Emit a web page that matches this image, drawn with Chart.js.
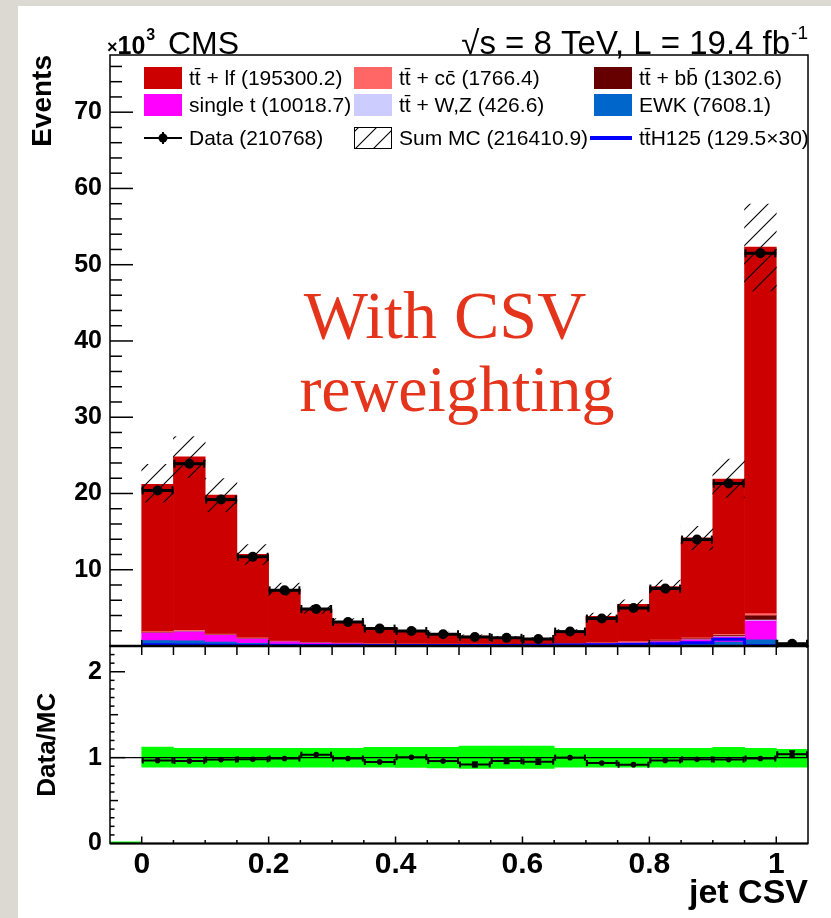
<!DOCTYPE html>
<html>
<head>
<meta charset="utf-8">
<script src="https://cdn.jsdelivr.net/npm/chart.js@4.4.1/dist/chart.umd.min.js"></script>
<style>
html, body { margin: 0; padding: 0; background: #fff; }
#page { position: relative; width: 831px; height: 918px; background: #fff; overflow: hidden; }
#edgeL { position: absolute; left: 0; top: 0; width: 18px; height: 918px; background: #dcd9d3; }
#edgeT { position: absolute; left: 0; top: 0; width: 831px; height: 6px; background: #dcd9d3; }
canvas { position: absolute; left: 0; }
#upper { top: 0; }
#ratio { top: 640px; }
</style>
</head>
<body>
<div id="page">
  <div id="edgeL"></div>
  <div id="edgeT"></div>
  <canvas id="upper" width="831" height="660"></canvas>
  <canvas id="ratio" width="831" height="278"></canvas>
</div>
<script>
// bin edges of jet CSV (last bin is the overflow 1.0-1.05)
var binEdges = [0, 0.05, 0.1, 0.15, 0.2, 0.25, 0.3, 0.35, 0.4, 0.45, 0.5, 0.55, 0.6, 0.65, 0.7, 0.75, 0.8, 0.85, 0.9, 0.95, 1.0, 1.05];
var ratioEdges = [-0.05, 0, 0.05, 0.1, 0.15, 0.2, 0.25, 0.3, 0.35, 0.4, 0.45, 0.5, 0.55, 0.6, 0.65, 0.7, 0.75, 0.8, 0.85, 0.9, 0.95, 1.0, 1.05];

// events, in units of 10^3
var dataEvents = [20.4, 23.9, 19.2, 11.7, 7.3, 4.85, 3.15, 2.28, 1.97, 1.54, 1.18, 1.07, 0.92, 1.89, 3.6, 4.99, 7.53, 13.96, 21.3, 51.5, 0.3];
var ewk     = [0.8, 0.75, 0.6, 0.45, 0.35, 0.3, 0.25, 0.2, 0.2, 0.18, 0.17, 0.16, 0.16, 0.2, 0.25, 0.3, 0.35, 0.45, 0.6, 0.9, 0.05];
var singleT = [1.0, 1.2, 0.9, 0.57, 0.3, 0.2, 0.15, 0.12, 0.1, 0.1, 0.1, 0.1, 0.1, 0.12, 0.15, 0.2, 0.3, 0.45, 0.65, 2.45, 0.02];
var ttV     = [0.02, 0.02, 0.02, 0.015, 0.01, 0.01, 0.01, 0.01, 0.01, 0.01, 0.01, 0.01, 0.01, 0.01, 0.015, 0.02, 0.03, 0.04, 0.06, 0.15, 0];
var ttbb    = [0.04, 0.04, 0.03, 0.03, 0.02, 0.02, 0.02, 0.02, 0.02, 0.02, 0.02, 0.02, 0.02, 0.03, 0.04, 0.05, 0.07, 0.1, 0.15, 0.55, 0];
var ttcc    = [0.13, 0.14, 0.11, 0.08, 0.06, 0.05, 0.04, 0.04, 0.04, 0.03, 0.03, 0.03, 0.03, 0.05, 0.07, 0.08, 0.1, 0.13, 0.15, 0.3, 0];
var ttlf    = [19.21, 22.65, 18.14, 10.86, 6.7, 4.22, 2.78, 2.03, 1.68, 1.28, 0.97, 0.8, 0.64, 1.52, 3.38, 4.8, 6.95, 13.0, 20.27, 47.95, 0.13];
var ttH30   = [0.15, 0.15, 0.13, 0.1, 0.08, 0.07, 0.06, 0.06, 0.06, 0.06, 0.06, 0.07, 0.07, 0.09, 0.12, 0.15, 0.2, 0.3, 0.42, 0.9, 0.02];

// Data/MC panel
var ratio    = [0.968, 0.96, 0.977, 0.98, 0.99, 1.035, 0.99, 0.95, 1.005, 0.96, 0.92, 0.96, 0.953, 1.0, 0.937, 0.918, 0.968, 0.98, 0.977, 0.99, 1.04];
var ratioErr = [0.006, 0.006, 0.006, 0.008, 0.01, 0.012, 0.015, 0.018, 0.02, 0.022, 0.025, 0.026, 0.028, 0.02, 0.014, 0.012, 0.01, 0.008, 0.006, 0.004, 0.035];
var bandLo = [0, 0.89, 0.89, 0.89, 0.89, 0.89, 0.89, 0.89, 0.89, 0.885, 0.88, 0.875, 0.875, 0.875, 0.89, 0.89, 0.89, 0.89, 0.89, 0.89, 0.89, 0.89];
var bandHi = [0.02, 1.124, 1.108, 1.108, 1.108, 1.108, 1.108, 1.108, 1.12, 1.12, 1.12, 1.135, 1.135, 1.135, 1.108, 1.108, 1.108, 1.108, 1.108, 1.12, 1.108, 1.097];

var yTicks = [10, 20, 30, 40, 50, 60, 70];
var xTicks = [0, 0.2, 0.4, 0.6, 0.8, 1];
var ratioTicks = [0, 1, 2];

Chart.defaults.font.family = 'Liberation Sans';
Chart.defaults.color = '#000';

function centers(edges) {
  var c = [];
  for (var i = 0; i < edges.length - 1; i++) c.push((edges[i] + edges[i + 1]) / 2);
  return c;
}
var xc = centers(binEdges);
var xcR = centers(ratioEdges);

// keep chart area exactly where the layout padding puts it
function noPad(s) { s.paddingTop = 0; s.paddingBottom = 0; s.paddingLeft = 0; s.paddingRight = 0; }

function hatchPattern(ctx) {
  var c = document.createElement('canvas');
  c.width = 18; c.height = 18;
  var g = c.getContext('2d');
  g.strokeStyle = '#000';
  g.lineWidth = 1.1;
  g.beginPath();
  g.moveTo(0, 18); g.lineTo(18, 0);
  g.moveTo(-9, 9); g.lineTo(9, -9);
  g.moveTo(9, 27); g.lineTo(27, 9);
  g.stroke();
  return ctx.createPattern(c, 'repeat');
}

// stack, bottom to top
var layers = [
  { label: 'EWK', vals: ewk, color: '#0066cc' },
  { label: 'single t', vals: singleT, color: '#ff00ff' },
  { label: 'ttV', vals: ttV, color: '#ccccff' },
  { label: 'ttbb', vals: ttbb, color: '#660000' },
  { label: 'ttcc', vals: ttcc, color: '#ff6666' },
  { label: 'ttlf', vals: ttlf, color: '#cc0000' }
];
var base = xc.map(function () { return 0; });
var stackSets = layers.map(function (l, k) {
  var d = xc.map(function (x, i) {
    var lo = base[i];
    base[i] += l.vals[i];
    return { x: x, y: [lo, base[i]] };
  });
  return { type: 'bar', label: l.label, data: d, backgroundColor: l.color, borderWidth: 0,
           grouped: false, barPercentage: 1, categoryPercentage: 1, order: 20 - k };
});
var mcTotal = base.slice();

var upperCtx = document.getElementById('upper').getContext('2d');
var hatch = hatchPattern(upperCtx);

var hatchSet = {
  type: 'bar', label: 'Sum MC',
  data: xc.map(function (x, i) { return { x: x, y: [mcTotal[i] * bandLo[i + 1], mcTotal[i] * bandHi[i + 1]] }; }),
  backgroundColor: hatch, borderWidth: 0, grouped: false, barPercentage: 1, categoryPercentage: 1, order: 3
};
var ttHPts = binEdges.map(function (e, i) { return { x: e, y: ttH30[Math.min(i, ttH30.length - 1)] }; });
var ttHSet = { type: 'line', label: 'ttH125', data: ttHPts, stepped: 'after', borderColor: '#0000ff',
               borderWidth: 3, pointRadius: 0, fill: false, order: 2 };
var dataSet = { type: 'scatter', label: 'Data', data: xc.map(function (x, i) { return { x: x, y: dataEvents[i] }; }),
                pointRadius: 5, pointBackgroundColor: '#000', pointBorderWidth: 0, order: 1 };

function drawLine(ctx, x0, y0, x1, y1) { ctx.beginPath(); ctx.moveTo(x0, y0); ctx.lineTo(x1, y1); ctx.stroke(); }

var legendItems = [
  { col: 0, row: 0, kind: 'box', color: '#cc0000', text: 'tt\u0304 + lf (195300.2)' },
  { col: 1, row: 0, kind: 'box', color: '#ff6666', text: 'tt\u0304 + cc\u0304 (1766.4)' },
  { col: 2, row: 0, kind: 'box', color: '#660000', text: 'tt\u0304 + bb\u0304 (1302.6)' },
  { col: 0, row: 1, kind: 'box', color: '#ff00ff', text: 'single t (10018.7)' },
  { col: 1, row: 1, kind: 'box', color: '#ccccff', text: 'tt\u0304 + W,Z (426.6)' },
  { col: 2, row: 1, kind: 'box', color: '#0066cc', text: 'EWK (7608.1)' },
  { col: 0, row: 2, kind: 'data', text: 'Data (210768)' },
  { col: 1, row: 2, kind: 'hatch', text: 'Sum MC (216410.9)' },
  { col: 2, row: 2, kind: 'line', color: '#0000ff', text: 'tt\u0304H125 (129.5\u00d730)' }
];
var legendColX = [144, 354, 594];
var legendRowY = [78, 105, 138];

var upperDeco = {
  id: 'upperDeco',
  afterDatasetsDraw: function (chart) {
    var ctx = chart.ctx, xs = chart.scales.x, ys = chart.scales.y;
    ctx.save();
    ctx.strokeStyle = '#000';
    ctx.lineWidth = 3;
    for (var i = 0; i < dataEvents.length; i++) {
      var y = ys.getPixelForValue(dataEvents[i]);
      var x0 = xs.getPixelForValue(binEdges[i]), x1 = xs.getPixelForValue(binEdges[i + 1]);
      drawLine(ctx, x0, y, x1, y);
      ctx.lineWidth = 2;
      drawLine(ctx, x0 + 1, y - 4, x0 + 1, y + 4);
      drawLine(ctx, x1 - 1, y - 4, x1 - 1, y + 4);
      ctx.lineWidth = 3;
    }
    ctx.restore();
  },
  afterDraw: function (chart) {
    var ctx = chart.ctx, ca = chart.chartArea, xs = chart.scales.x, ys = chart.scales.y;
    ctx.save();
    ctx.strokeStyle = '#000';
    // frame
    ctx.lineWidth = 1.5;
    ctx.strokeRect(ca.left, ca.top, ca.right - ca.left, ca.bottom - ca.top);
    ctx.lineWidth = 2.5;
    drawLine(ctx, ca.left, ca.bottom, ca.right, ca.bottom);
    // y ticks
    ctx.lineWidth = 1.5;
    for (var k = 1; k * 2 <= ys.max; k++) {
      var v = k * 2, py = ys.getPixelForValue(v);
      drawLine(ctx, ca.left, py, ca.left + (v % 10 === 0 ? 23 : 12), py);
    }
    // x ticks
    for (var j = 0; j <= 20; j++) {
      var px = xs.getPixelForValue(j * 0.05);
      drawLine(ctx, px, ca.bottom - (j % 4 === 0 ? 6 : 0), px, ca.bottom + 9);
    }
    // legend
    ctx.font = '21px "Liberation Sans"';
    ctx.textBaseline = 'middle';
    ctx.textAlign = 'left';
    legendItems.forEach(function (it) {
      var x = legendColX[it.col], y = legendRowY[it.row];
      if (it.kind === 'box') {
        ctx.fillStyle = it.color;
        ctx.fillRect(x, y - 11, 38, 22);
      } else if (it.kind === 'data') {
        ctx.lineWidth = 2;
        drawLine(ctx, x, y, x + 38, y);
        drawLine(ctx, x + 19, y - 6, x + 19, y + 6);
        ctx.fillStyle = '#000';
        ctx.beginPath(); ctx.arc(x + 19, y, 4.5, 0, Math.PI * 2); ctx.fill();
      } else if (it.kind === 'hatch') {
        ctx.fillStyle = hatch;
        ctx.fillRect(x, y - 11, 38, 22);
        ctx.lineWidth = 1;
        ctx.strokeRect(x + 0.5, y - 10.5, 37, 21);
      } else {
        ctx.strokeStyle = it.color;
        ctx.lineWidth = 4;
        drawLine(ctx, x - 4, y, x + 38, y);
        ctx.strokeStyle = '#000';
      }
      ctx.fillStyle = '#000';
      ctx.fillText(it.text, x + 45, y + 1);
    });
    // header texts
    ctx.textBaseline = 'alphabetic';
    ctx.font = 'bold 18px "Liberation Sans"';
    ctx.fillText('\u00d7', 107, 53);
    var wx = ctx.measureText('\u00d7').width;
    ctx.font = 'bold 25px "Liberation Sans"';
    ctx.fillText('10', 107 + wx, 54);
    var w10 = ctx.measureText('10').width;
    ctx.font = 'bold 16px "Liberation Sans"';
    ctx.fillText('3', 107 + wx + w10 + 1, 40);
    ctx.font = '32px "Liberation Sans"';
    ctx.fillText('CMS', 168, 54);
    ctx.font = '19px "Liberation Sans"';
    var sup = '-1';
    var ws = ctx.measureText(sup).width;
    ctx.textAlign = 'right';
    ctx.fillText(sup, 808, 39);
    ctx.font = '33px "Liberation Sans"';
    ctx.fillText('\u221as = 8 TeV, L = 19.4 fb', 807 - ws, 54);
    // annotation
    ctx.textAlign = 'center';
    ctx.fillStyle = '#e5341c';
    ctx.font = '68px "Liberation Serif"';
    ctx.fillText('With CSV', 445, 338);
    ctx.font = '66px "Liberation Serif"';
    ctx.fillText('reweighting', 457, 411);
    ctx.restore();
  }
};

new Chart(upperCtx, {
  type: 'bar',
  data: { datasets: [dataSet, hatchSet, ttHSet].concat(stackSets) },
  options: {
    responsive: false, animation: false, devicePixelRatio: 1, events: [],
    layout: { padding: { left: 10, top: 55, right: 23, bottom: 14 } },
    plugins: { legend: { display: false }, tooltip: { enabled: false } },
    scales: {
      x: { type: 'linear', min: -0.05, max: 1.05, offset: false, display: false,
           afterFit: noPad,
           afterBuildTicks: function (s) { s.ticks = xTicks.map(function (v) { return { value: v }; }); } },
      y: { type: 'linear', min: 0, max: 77.5, position: 'left',
           afterFit: function (s) { s.width = 100; noPad(s); },
           afterBuildTicks: function (s) { s.ticks = yTicks.map(function (v) { return { value: v }; }); },
           grid: { display: false, drawTicks: false }, border: { display: false },
           ticks: { font: { size: 25, weight: 'bold' }, padding: 8, color: '#000' },
           title: { display: true, text: 'Events', align: 'end', color: '#000',
                    font: { size: 28, weight: 'bold' }, padding: { top: 16, bottom: 0 } } }
    }
  },
  plugins: [upperDeco]
});

// ratio panel
var bandSet = {
  type: 'bar', label: 'MC unc',
  data: xcR.map(function (x, i) { return { x: x, y: [bandLo[i], bandHi[i]] }; }),
  backgroundColor: '#00ff00', borderWidth: 0, grouped: false, barPercentage: 1, categoryPercentage: 1, order: 5
};
var ratioSet = { type: 'scatter', label: 'Data/MC', data: xc.map(function (x, i) { return { x: x, y: ratio[i] }; }),
                 pointRadius: 2.8, pointBackgroundColor: '#000', pointBorderWidth: 0, order: 1 };

var ratioDeco = {
  id: 'ratioDeco',
  afterDatasetsDraw: function (chart) {
    var ctx = chart.ctx, ca = chart.chartArea, xs = chart.scales.x, ys = chart.scales.y;
    ctx.save();
    ctx.strokeStyle = '#000';
    ctx.lineWidth = 1.2;
    var y1 = ys.getPixelForValue(1);
    drawLine(ctx, ca.left, y1, ca.right, y1);
    ctx.lineWidth = 2;
    for (var i = 0; i < ratio.length; i++) {
      var y = ys.getPixelForValue(ratio[i]);
      var x0 = xs.getPixelForValue(binEdges[i]), x1 = xs.getPixelForValue(binEdges[i + 1]);
      var xm = (x0 + x1) / 2;
      var ylo = ys.getPixelForValue(ratio[i] - ratioErr[i]), yhi = ys.getPixelForValue(ratio[i] + ratioErr[i]);
      drawLine(ctx, x0, y, x1, y);
      drawLine(ctx, x0 + 1, y - 3, x0 + 1, y + 3);
      drawLine(ctx, x1 - 1, y - 3, x1 - 1, y + 3);
      drawLine(ctx, xm, ylo, xm, yhi);
      if (yhi < y - 2) {
        drawLine(ctx, xm - 3, ylo, xm + 3, ylo);
        drawLine(ctx, xm - 3, yhi, xm + 3, yhi);
      }
    }
    ctx.restore();
  },
  afterDraw: function (chart) {
    var ctx = chart.ctx, ca = chart.chartArea, xs = chart.scales.x, ys = chart.scales.y;
    ctx.save();
    ctx.strokeStyle = '#000';
    ctx.lineWidth = 1.5;
    ctx.strokeRect(ca.left, ca.top, ca.right - ca.left, ca.bottom - ca.top);
    ctx.lineWidth = 2;
    drawLine(ctx, ca.left, ca.bottom, ca.right, ca.bottom);
    ctx.lineWidth = 1.5;
    for (var k = 1; k * 0.1 <= ys.max; k++) {
      var py = ys.getPixelForValue(k * 0.1);
      var len = (k % 10 === 0) ? 15 : (k % 5 === 0 ? 8 : 4.5);
      drawLine(ctx, ca.left, py, ca.left + len, py);
    }
    for (var j = 0; j <= 20; j++) {
      var px = xs.getPixelForValue(j * 0.05);
      drawLine(ctx, px, ca.bottom, px, ca.bottom - (j % 4 === 0 ? 7 : 3.5));
    }
    ctx.restore();
  }
};

new Chart(document.getElementById('ratio').getContext('2d'), {
  type: 'bar',
  data: { datasets: [ratioSet, bandSet] },
  options: {
    responsive: false, animation: false, devicePixelRatio: 1, events: [],
    layout: { padding: { left: 10, top: 6, right: 23, bottom: 0 } },
    plugins: { legend: { display: false }, tooltip: { enabled: false } },
    scales: {
      x: { type: 'linear', min: -0.05, max: 1.05, offset: false, position: 'bottom',
           afterFit: function (s) { s.height = 74.5; noPad(s); },
           afterBuildTicks: function (s) { s.ticks = xTicks.map(function (v) { return { value: v }; }); },
           grid: { display: false, drawTicks: false }, border: { display: false },
           ticks: { font: { size: 30, weight: 'bold' }, padding: 3, color: '#000', maxRotation: 0,
                    callback: function (v) { return (v === 0 || v === 1) ? String(v) : v.toFixed(1); } },
           title: { display: true, text: 'jet CSV', align: 'end', color: '#000',
                    font: { size: 34, weight: 'bold' }, padding: { top: 0, bottom: 4 } } },
      y: { type: 'linear', min: 0, max: 2.3, position: 'left',
           afterFit: function (s) { s.width = 100; noPad(s); },
           afterBuildTicks: function (s) { s.ticks = ratioTicks.map(function (v) { return { value: v }; }); },
           grid: { display: false, drawTicks: false }, border: { display: false },
           ticks: { font: { size: 25, weight: 'bold' }, padding: 8, color: '#000' },
           title: { display: true, text: 'Data/MC', align: 'center', color: '#000',
                    font: { size: 26, weight: 'bold' }, padding: { top: 22, bottom: 0 } } }
    }
  },
  plugins: [ratioDeco]
});
</script>
</body>
</html>
